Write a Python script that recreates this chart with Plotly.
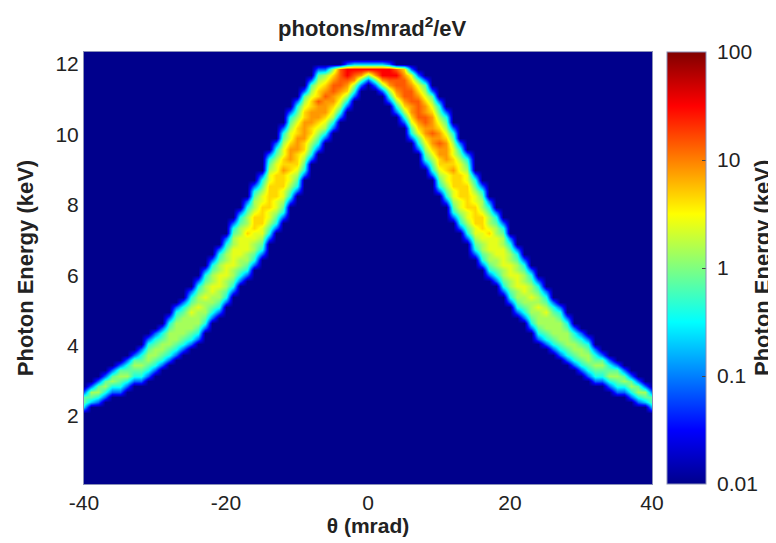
import numpy as np
import plotly.graph_objects as go

# Readings from the picture: per theta column, first energy row of the visible band
# and the band's cell levels from low to high energy.
theta = list(range(-40, 41))
energy_floor = 0.07
energy_step = 0.15
energy_rows = 82
background = 0.01
level_values = {"1": 0.03, "2": 0.08, "3": 0.2, "4": 0.4, "5": 0.75, "6": 1.4, "7": 2.5,
                "8": 4.5, "9": 8, "a": 14, "b": 32}
column_start = [14, 15, 15, 16, 17, 17, 18, 19, 19, 20, 21, 22, 23, 24, 25, 26, 27, 29, 31, 32,
                34, 36, 38, 39, 41, 43, 46, 48, 50, 53, 55, 58, 61, 63, 65, 67, 69, 71, 73, 75, 76,
                75, 74, 72, 70, 68, 65, 63, 60, 58, 55, 53, 50, 48, 46, 43, 41, 39, 38, 36,
                34, 32, 31, 29, 27, 26, 25, 24, 23, 22, 21, 20, 19, 19, 18, 17, 17, 16, 15, 15, 14]
column_levels = [
    "3552", "3562", "24652", "24652", "24652", "245652", "246542", "245652", "2456542",
    "24566542", "24566542", "24566542", "245666542", "2456666542", "2456666542",
    "24566676542", "245666766542", "245666766542", "245667766542", "2456677766542",
    "2456677766542", "24566777766542", "24566777766542", "245667778766542",
    "2456677888766542", "2456778888776542", "24567788888776542", "24567788888776542",
    "245677888988776542", "245677889998776542", "245678889998876542",
    "24567889999887652", "2456788999887652", "245678999a887652", "24678999a98762",
    "2467899aa986", "246789aaaa", "24689abb2", "2469ab3", "259b3", "26b3",
    "259b3", "269bb3", "2469abb2", "24689aaba", "24689aaaa98", "2457899aaa9872",
    "245789aaaa98752", "24567899aa9987652", "24567899a99987652", "245678899a99876542",
    "245677889999876542", "245677888988776542", "24567788888776542", "24567788888776542",
    "2456778888776542", "2456677888766542", "245667778766542", "24566777766542",
    "24566777766542", "2456677766542", "2456677766542", "245667766542", "245666766542",
    "245666766542", "24566676542", "2456666542", "2456666542", "245666542", "24566542",
    "24566542", "24566542", "2456542", "245652", "246542", "245652", "24652", "24652",
    "24652", "3562", "3552",
]
x_ticks = [-40, -20, 0, 20, 40]
x_labels = ["-40", "-20", "0", "20", "40"]
y_ticks = [2, 4, 6, 8, 10, 12]
bar_ticks = [0.01, 0.1, 1, 10, 100]
bar_labels = ["\u00a00.01", "\u00a00.1", "\u00a01", "\u00a010", "\u00a0100"]

z = np.full((energy_rows, len(theta)), background, dtype=float)
for col, (start, levels) in enumerate(zip(column_start, column_levels)):
    for k, ch in enumerate(levels):
        z[start + k, col] = level_values[ch]
energy = [energy_floor + energy_step * (r + 0.5) for r in range(energy_rows)]

jet = [[0, "#00008c"], [0.125, "#0000ff"], [0.375, "#00ffff"], [0.625, "#ffff00"],
       [0.875, "#ff0000"], [1, "#800000"]]
FONT = "Liberation Sans"

fig = go.Figure(go.Heatmap(
    x=theta, y=energy, z=np.log10(z), zmin=-2, zmax=2, zsmooth="best", colorscale=jet,
    hoverinfo="skip",
    colorbar=dict(
        x=(667 - 84) / 568, xanchor="left", y=0.5, yanchor="middle", thickness=39,
        thicknessmode="pixels", len=1, lenmode="fraction", outlinecolor="#8a90b8", outlinewidth=1,
        xpad=0, ypad=0, tickmode="array", tickvals=[float(np.log10(t)) for t in bar_ticks],
        ticktext=bar_labels, ticks="inside", ticklen=4, tickcolor="#444444",
        tickfont=dict(family=FONT, size=21, color="#222"),
    ),
))
# The page's body has an 8 px margin, so the figure is 8 px smaller and offset by 8 px.
fig.update_layout(
    width=768, height=535, margin=dict(l=76, r=124, t=44, b=59, autoexpand=False),
    paper_bgcolor="white", plot_bgcolor="#00008c", font=dict(family=FONT, color="#222"),
    xaxis=dict(range=[-40, 40], tickvals=x_ticks, ticktext=x_labels, ticks="", showgrid=False,
               zeroline=False, tickfont=dict(size=21), showline=True, mirror=True,
               linecolor="#8a90b8", linewidth=1,
               title=dict(text="<b>θ (mrad)</b>", font=dict(size=21), standoff=2)),
    yaxis=dict(range=[0.07, 12.34], tickvals=y_ticks, ticks="", showgrid=False, zeroline=False,
               tickfont=dict(size=21), showline=True, mirror=True, linecolor="#8a90b8", linewidth=1,
               title=dict(text="<b>Photon Energy (keV)</b>", font=dict(size=22), standoff=15)),
    annotations=[
        dict(text="<b>photons/mrad<sup>2</sup>/eV</b>", xref="paper", yref="paper",
             x=(372 - 84) / 568, y=(484 - 27) / 432, xanchor="center", yanchor="middle",
             showarrow=False, font=dict(size=22, family=FONT, color="#222")),
        dict(text="<b>Photon Energy (keV)</b>", xref="paper", yref="paper",
             x=(762 - 84) / 568, y=(484 - 268) / 432, xanchor="center", yanchor="middle",
             textangle=-90, showarrow=False, font=dict(size=22, family=FONT, color="#222")),
    ],
)
fig.write_html("out.html")
